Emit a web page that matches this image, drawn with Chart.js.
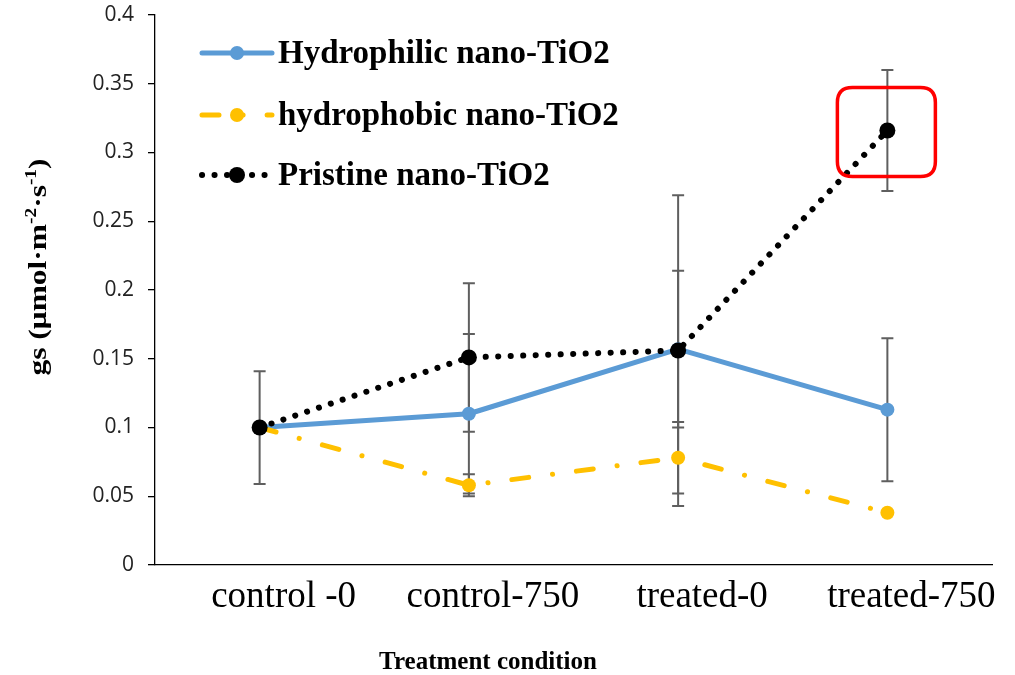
<!DOCTYPE html>
<html>
<head>
<meta charset="utf-8">
<script src="https://cdn.jsdelivr.net/npm/chart.js@4.4.1/dist/chart.umd.min.js"></script>
<style>
  html, body { margin: 0; padding: 0; background: #ffffff; }
  #wrap { width: 1015px; height: 675px; }
</style>
</head>
<body>
<div id="wrap"><canvas id="c" width="1015" height="675"></canvas></div>
<script>
// ---- data ----
const categories = ["control -0", "control-750", "treated-0", "treated-750"];
const seriesNames = ["Hydrophilic nano-TiO2", "hydrophobic nano-TiO2", "Pristine nano-TiO2"];
const hydrophilic = [0.100, 0.110, 0.157, 0.113];
const hydrophilicErr = [0.000, 0.058, 0.057, 0.052];
const hydrophobic = [0.100, 0.058, 0.078, 0.038];
const hydrophobicErr = [0.000, 0.008, 0.026, 0.000];
const pristine = [0.100, 0.151, 0.156, 0.316];
const pristineErr = [0.041, 0.054, 0.113, 0.044];
const yTitleParts = [["gs (μmol·m", false], ["-2", true], ["·s", false], ["-1", true], [")", false]];
const xTitle = "Treatment condition";
const highlight = { dataset: 2, index: 3 };

const errors = [hydrophilicErr, hydrophobicErr, pristineErr];
const SERIF = "'Liberation Serif', 'Times New Roman', serif";

const errorBarPlugin = {
  id: 'errorBars',
  beforeDatasetsDraw(chart) {
    const ctx = chart.ctx, y = chart.scales.y;
    ctx.save();
    ctx.strokeStyle = '#5f5f5f';
    ctx.lineWidth = 2;
    chart.data.datasets.forEach((ds, i) => {
      const meta = chart.getDatasetMeta(i);
      ds.data.forEach((v, j) => {
        const e = errors[i][j];
        if (!e) return;
        const x = meta.data[j].x;
        const yt = y.getPixelForValue(v + e), yb = y.getPixelForValue(v - e);
        ctx.beginPath();
        ctx.moveTo(x, yt); ctx.lineTo(x, yb);
        ctx.moveTo(x - 6, yt); ctx.lineTo(x + 6, yt);
        ctx.moveTo(x - 6, yb); ctx.lineTo(x + 6, yb);
        ctx.stroke();
      });
    });
    ctx.restore();
  }
};

function roundRect(ctx, x, y, w, h, r) {
  ctx.beginPath();
  ctx.moveTo(x + r, y);
  ctx.lineTo(x + w - r, y); ctx.quadraticCurveTo(x + w, y, x + w, y + r);
  ctx.lineTo(x + w, y + h - r); ctx.quadraticCurveTo(x + w, y + h, x + w - r, y + h);
  ctx.lineTo(x + r, y + h); ctx.quadraticCurveTo(x, y + h, x, y + h - r);
  ctx.lineTo(x, y + r); ctx.quadraticCurveTo(x, y, x + r, y);
  ctx.closePath();
}

const decorPlugin = {
  id: 'decor',
  afterDraw(chart) {
    const ctx = chart.ctx;
    // highlight box
    const p = chart.getDatasetMeta(highlight.dataset).data[highlight.index];
    ctx.save();
    ctx.strokeStyle = '#ff0000';
    ctx.lineWidth = 3.5;
    roundRect(ctx, p.x - 50, p.y - 43, 98, 89, 15);
    ctx.stroke();
    ctx.restore();

    // legend
    const rows = [53, 115, 175];
    chart.data.datasets.forEach((ds, i) => {
      const ry = rows[i];
      ctx.save();
      ctx.strokeStyle = ds.borderColor;
      ctx.lineWidth = ds.borderWidth;
      ctx.lineCap = ds.borderCapStyle || 'butt';
      ctx.setLineDash(ds.borderDash || []);
      ctx.beginPath();
      ctx.moveTo(202, ry); ctx.lineTo(272, ry);
      ctx.stroke();
      ctx.setLineDash([]);
      ctx.fillStyle = ds.pointBackgroundColor;
      ctx.beginPath();
      ctx.arc(237, ry, ds.pointRadius, 0, Math.PI * 2);
      ctx.fill();
      ctx.fillStyle = '#000';
      ctx.font = "bold 33px " + SERIF;
      ctx.textBaseline = 'middle';
      ctx.textAlign = 'left';
      ctx.fillText(ds.label, 278, ry + 1);
      ctx.restore();
    });

    // y axis title with superscripts
    ctx.save();
    const base = 26, sup = 16;
    let total = 0;
    yTitleParts.forEach(([t, s]) => {
      ctx.font = "bold " + (s ? sup : base) + "px " + SERIF;
      total += ctx.measureText(t).width;
    });
    const target = 217;
    const k = target / total;
    ctx.translate(37, 267);
    ctx.rotate(-Math.PI / 2);
    ctx.scale(k, 1);
    ctx.fillStyle = '#000';
    ctx.textBaseline = 'alphabetic';
    ctx.textAlign = 'left';
    let cx = -total / 2;
    yTitleParts.forEach(([t, s]) => {
      ctx.font = "bold " + (s ? sup : base) + "px " + SERIF;
      ctx.fillText(t, cx, s ? -1 : 9);
      cx += ctx.measureText(t).width;
    });
    ctx.restore();

    // x axis title
    ctx.save();
    ctx.font = "bold 25px " + SERIF;
    ctx.fillStyle = '#000';
    ctx.textAlign = 'center';
    ctx.textBaseline = 'alphabetic';
    ctx.fillText(xTitle, 488, 669);
    ctx.restore();
  }
};

new Chart(document.getElementById('c'), {
  type: 'line',
  data: {
    labels: categories,
    datasets: [
      {
        label: seriesNames[0], data: hydrophilic, order: 3,
        borderColor: '#5B9BD5', backgroundColor: '#5B9BD5',
        pointBackgroundColor: '#5B9BD5', pointBorderColor: '#5B9BD5',
        borderWidth: 5, pointRadius: 7, pointBorderWidth: 0,
        borderCapStyle: 'round', borderJoinStyle: 'round', tension: 0
      },
      {
        label: seriesNames[1], data: hydrophobic, order: 2,
        borderColor: '#FFC000', backgroundColor: '#FFC000',
        pointBackgroundColor: '#FFC000', pointBorderColor: '#FFC000',
        borderWidth: 5, pointRadius: 7, pointBorderWidth: 0,
        borderDash: [17, 24, 0.1, 24], borderCapStyle: 'round', tension: 0
      },
      {
        label: seriesNames[2], data: pristine, order: 1,
        borderColor: '#000000', backgroundColor: '#000000',
        pointBackgroundColor: '#000000', pointBorderColor: '#000000',
        borderWidth: 6, pointRadius: 8, pointBorderWidth: 0,
        borderDash: [0.1, 12.4], borderCapStyle: 'round', tension: 0
      }
    ]
  },
  options: {
    responsive: false,
    devicePixelRatio: 1,
    animation: false,
    layout: { padding: { left: 0, right: 23, top: 15, bottom: 0 } },
    plugins: { legend: { display: false }, tooltip: { enabled: false }, title: { display: false } },
    scales: {
      x: {
        offset: true,
        grid: { display: false, drawTicks: false },
        border: { display: true, color: '#000', width: 1.3 },
        ticks: {
          color: '#000', font: { family: SERIF, size: 37 },
          padding: 10, labelOffset: 24, maxRotation: 0, autoSkip: false
        },
        afterFit(s) { s.height = 110; s.paddingLeft = 0; s.paddingRight = 0; }
      },
      y: {
        min: 0, max: 0.4,
        grid: { drawOnChartArea: false, drawTicks: true, tickLength: 7, color: '#000', lineWidth: 1.3 },
        border: { display: true, color: '#000', width: 1.3 },
        ticks: {
          stepSize: 0.05, color: '#222', padding: 14,
          font: { family: "'Open Sans', sans-serif", size: 21 },
          callback: (v) => String(Number(v.toFixed(2)))
        },
        afterFit(s) { s.width = 155; s.paddingTop = 0; s.paddingBottom = 0; }
      }
    }
  },
  plugins: [errorBarPlugin, decorPlugin]
});
</script>
</body>
</html>
